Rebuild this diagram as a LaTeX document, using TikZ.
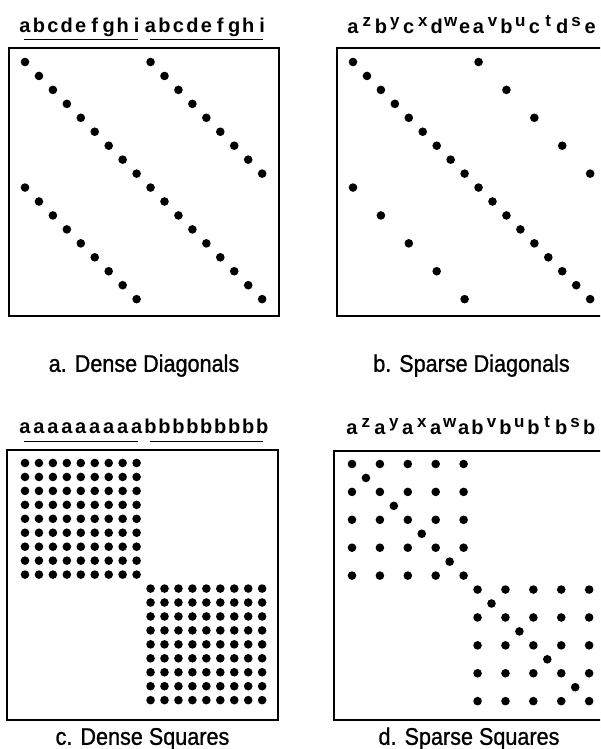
\documentclass[tikz,border=0pt]{standalone}
\usepackage{fontspec}
\setmainfont{Liberation Sans}
\newfontfamily\capfont[FakeStretch=0.9,FakeBold=1]{Liberation Sans}
\usetikzlibrary{positioning}
\newcommand{\pitch}{13.95}

\begin{document}
\begin{tikzpicture}[
    x=1pt, y=-1pt,
    frame/.style={rectangle, draw=black, line width=1.6pt, inner sep=0pt},
    dot/.style={circle, fill=black, inner sep=0pt, minimum size=8.6pt},
    lbl/.style={anchor=base, inner sep=0pt, font=\fontsize{20}{20}\selectfont\bfseries},
    sup/.style={anchor=base, inner sep=0pt, yshift=7pt, font=\fontsize{17}{17}\selectfont\bfseries},
    caption/.style={inner sep=0pt, font=\capfont\fontsize{24}{24}\selectfont},
    uline/.style={line width=0.9pt}
  ]
  \clip (0,0) rectangle (600,749);

  % a. dense diagonals
  \node[frame, minimum width=270pt, minimum height=268pt] (frameA) at (144,182) {};
  \foreach \l [count=\j from 0] in {a,b,c,d,e,f,g,h,i,a,b,c,d,e,f,g,h,i}
    \node[lbl] (la-\j) at ({25+\pitch*\j},33) {\l};
  \draw[uline] ([xshift=-1pt,yshift=-6.5pt]la-0.base) -- ([xshift=1pt,yshift=-6.5pt]la-8.base);
  \draw[uline] ([xshift=-1pt,yshift=-6.5pt]la-9.base) -- ([xshift=1pt,yshift=-6.5pt]la-17.base);
  \foreach \i in {0,...,17}
    \node[dot] (a-\i-\i) at ({25+\pitch*\i},{62+\pitch*\i}) {};
  \foreach \i [evaluate=\i as \k using int(\i+9)] in {0,...,8} {
    \node[dot] (a-\i-\k) at ({25+\pitch*\k},{62+\pitch*\i}) {};
    \node[dot] (a-\k-\i) at ({25+\pitch*\i},{62+\pitch*\k}) {};
  }
  \node[caption, below=55pt of frameA, anchor=base] (capA) {a. Dense Diagonals};

  % b. sparse diagonals
  \node[frame, minimum width=269pt, minimum height=268pt] (frameB) at (471.5,182) {};
  \foreach \l/\j in {a/0,b/2,c/4,d/6,e/8,a/9,b/11,c/13,d/15,e/17}
    \node[lbl] (lb-\j) at ({353+\pitch*\j},34) {\l};
  \foreach \l/\j in {z/1,y/3,x/5,w/7,v/10,u/12,t/14,s/16}
    \node[sup] (lb-\j) at ({353+\pitch*\j},34) {\l};
  \foreach \i in {0,...,17}
    \node[dot] (b-\i-\i) at ({353+\pitch*\i},{62+\pitch*\i}) {};
  \foreach \i [evaluate=\i as \k using int(2*\i), evaluate=\i as \m using int(2*\i+9)] in {0,...,4} {
    \node[dot] (b-\k-\m) at ({353+\pitch*\m},{62+\pitch*\k}) {};
    \node[dot] (b-\m-\k) at ({353+\pitch*\k},{62+\pitch*\m}) {};
  }
  \node[caption, below=55pt of frameB, anchor=base] (capB) {b. Sparse Diagonals};

  % c. dense squares
  \node[frame, minimum width=271pt, minimum height=270pt] (frameC) at (142.5,585) {};
  \foreach \j in {0,...,8}
    \node[lbl] (lc-\j) at ({25+\pitch*\j},433) {a};
  \foreach \j in {9,...,17}
    \node[lbl] (lc-\j) at ({25+\pitch*\j},433) {b};
  \draw[uline] ([xshift=-1pt,yshift=-8pt]lc-0.base) -- ([xshift=1pt,yshift=-8pt]lc-8.base);
  \draw[uline] ([xshift=-1pt,yshift=-8pt]lc-9.base) -- ([xshift=1pt,yshift=-8pt]lc-17.base);
  \foreach \i in {0,...,8}
    \foreach \j in {0,...,8}
      \node[dot] (c-\i-\j) at ({25+\pitch*\j},{463+\pitch*\i}) {};
  \foreach \i in {9,...,17}
    \foreach \j in {9,...,17}
      \node[dot] (c-\i-\j) at ({25+\pitch*\j},{463+\pitch*\i}) {};
  \node[caption, below=24pt of frameC, anchor=base] (capC) {c. Dense Squares};

  % d. sparse squares
  \node[frame, minimum width=270pt, minimum height=269pt] (frameD) at (469,585.5) {};
  \foreach \l/\j in {a/0,a/2,a/4,a/6,a/8,b/9,b/11,b/13,b/15,b/17}
    \node[lbl] (ld-\j) at ({352+\pitch*\j},434) {\l};
  \foreach \l/\j in {z/1,y/3,x/5,w/7,v/10,u/12,t/14,s/16}
    \node[sup] (ld-\j) at ({352+\pitch*\j},434) {\l};
  \foreach \i in {0,2,...,8}
    \foreach \j in {0,2,...,8}
      \node[dot] (d-\i-\j) at ({352+\pitch*\j},{464+\pitch*\i}) {};
  \foreach \i in {1,3,5,7}
    \node[dot] (d-\i-\i) at ({352+\pitch*\i},{464+\pitch*\i}) {};
  \foreach \i in {9,11,...,17}
    \foreach \j in {9,11,...,17}
      \node[dot] (d-\i-\j) at ({352+\pitch*\j},{464+\pitch*\i}) {};
  \foreach \i in {10,12,14,16}
    \node[dot] (d-\i-\i) at ({352+\pitch*\i},{464+\pitch*\i}) {};
  \node[caption, below=24pt of frameD, anchor=base] (capD) {d. Sparse Squares};
\end{tikzpicture}
\end{document}
